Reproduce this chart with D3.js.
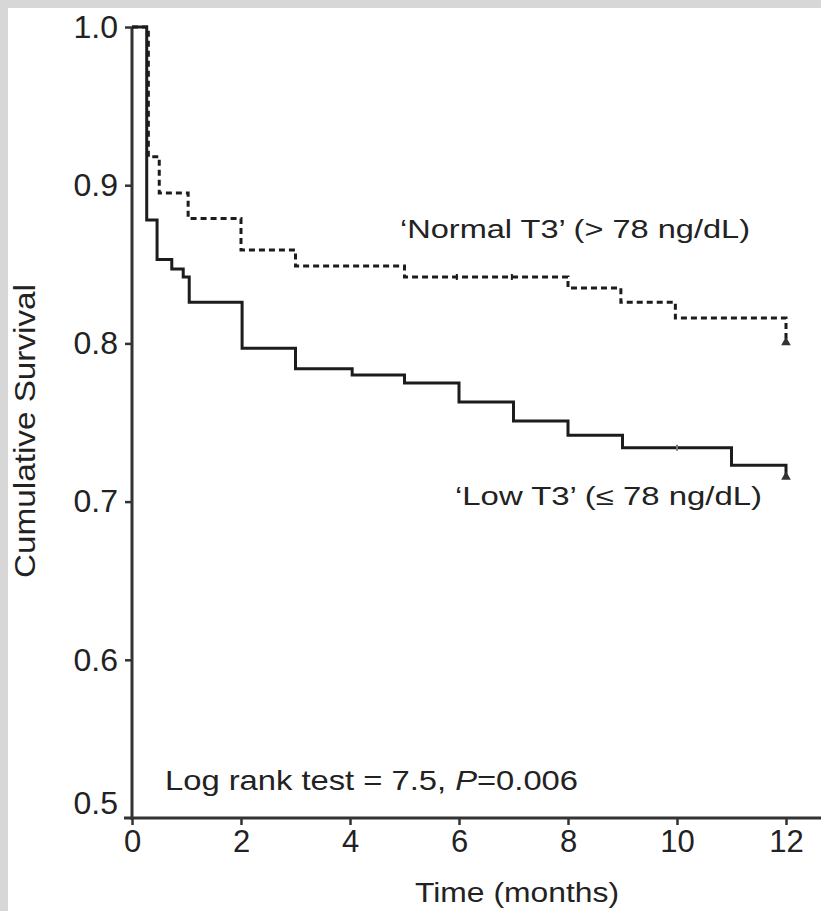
<!DOCTYPE html>
<html>
<head>
<meta charset="utf-8">
<script src="https://cdn.jsdelivr.net/npm/d3@7"></script>
<style>
  html, body { margin: 0; padding: 0; background: #d7d7d7; }
  svg { display: block; }
  text { font-family: "Liberation Sans", Arial, Helvetica, sans-serif; fill: #222; }
</style>
</head>
<body>
<script>
// ---- data ----
const normalTimes = [0, 0.3, 0.5, 1.03, 2.0, 3.0, 5.0, 8.0, 8.97, 9.97, 12.0];
const normalSurv  = [1.0, 0.918, 0.895, 0.879, 0.859, 0.849, 0.842, 0.835, 0.826, 0.816, 0.800];
const lowTimes = [0, 0.27, 0.46, 0.73, 0.94, 1.05, 2.02, 3.0, 4.04, 5.0, 6.0, 7.0, 8.0, 9.0, 11.0, 12.0];
const lowSurv  = [1.0, 0.878, 0.853, 0.847, 0.842, 0.826, 0.797, 0.784, 0.780, 0.775, 0.763, 0.751, 0.742, 0.734, 0.723, 0.715];
const normalCensorTimes = [5.96, 6.97];
const lowCensorTimes = [10.0];
const xTicks = [0, 2, 4, 6, 8, 10, 12];
const yTicks = [0.5, 0.6, 0.7, 0.8, 0.9, 1.0];
const labels = {
  normal: "\u2018Normal T3\u2019 (> 78 ng/dL)",
  low: "\u2018Low T3\u2019 (\u2264 78 ng/dL)",
  xTitle: "Time (months)",
  yTitle: "Cumulative Survival"
};

// ---- layout ----
const W = 821, H = 911;
const svg = d3.select("body").append("svg").attr("width", W).attr("height", H);
svg.append("rect").attr("x", 8).attr("y", 8).attr("width", W - 8).attr("height", H - 8).attr("fill", "#ffffff");

const x = d3.scaleLinear().domain([0, 12]).range([132, 786]);
const y = d3.scaleLinear().domain([0.5, 1.0]).range([818, 27]);

const ink = "#1c1c1c";

// axes
const xAxis = svg.append("g").attr("transform", `translate(0,${y(0.5)})`)
  .call(d3.axisBottom(x).tickValues(xTicks).tickSize(7).tickPadding(5).tickFormat(d3.format("d")));
xAxis.select(".domain").remove();
xAxis.selectAll(".tick line").attr("stroke", "#333").attr("stroke-width", 2.5);
xAxis.selectAll(".tick text").attr("font-size", 31).attr("fill", "#222").attr("dy", "0.72em");

const yAxis = svg.append("g").attr("transform", `translate(${x(0)},0)`)
  .call(d3.axisLeft(y).tickValues(yTicks).tickSize(7).tickPadding(7).tickFormat(d3.format(".1f")));
yAxis.select(".domain").remove();
yAxis.selectAll(".tick line").attr("stroke", "#333").attr("stroke-width", 2.5);
yAxis.selectAll(".tick text").attr("font-size", 32).attr("fill", "#222");
yAxis.selectAll(".tick").filter(d => d === 0.5).select("text").attr("dy", "-0.15em");
yAxis.selectAll(".tick").filter(d => d === 0.5).select("line").remove();

// axis lines
svg.append("line").attr("x1", x(0) - 8).attr("x2", W).attr("y1", y(0.5)).attr("y2", y(0.5))
  .attr("stroke", "#333").attr("stroke-width", 3);
svg.append("line").attr("x1", x(0)).attr("x2", x(0)).attr("y1", y(1.0)).attr("y2", y(0.5) + 2)
  .attr("stroke", "#333").attr("stroke-width", 3);

// curves
const line = d3.line().x(d => x(d[0])).y(d => y(d[1])).curve(d3.curveStepAfter);
const normalPts = normalTimes.map((t, i) => [t, normalSurv[i]]);
const lowPts = lowTimes.map((t, i) => [t, lowSurv[i]]);

svg.append("path").attr("d", line(lowPts)).attr("fill", "none")
  .attr("stroke", ink).attr("stroke-width", 3);
svg.append("path").attr("d", line(normalPts)).attr("fill", "none")
  .attr("stroke", ink).attr("stroke-width", 3).attr("stroke-dasharray", "6,4");

// step value lookup
function survAt(times, surv, t) {
  let v = surv[0];
  for (let i = 0; i < times.length; i++) if (times[i] <= t) v = surv[i];
  return v;
}
// censor ticks
normalCensorTimes.forEach(t => {
  const v = survAt(normalTimes, normalSurv, t);
  svg.append("line").attr("x1", x(t)).attr("x2", x(t)).attr("y1", y(v) - 3).attr("y2", y(v) + 3)
    .attr("stroke", ink).attr("stroke-width", 2);
});
lowCensorTimes.forEach(t => {
  const v = survAt(lowTimes, lowSurv, t);
  svg.append("line").attr("x1", x(t)).attr("x2", x(t)).attr("y1", y(v) - 3).attr("y2", y(v) + 3)
    .attr("stroke", "#777").attr("stroke-width", 2);
});
// end markers
const tri = d3.symbol().type(d3.symbolTriangle).size(40);
[[normalTimes, normalSurv], [lowTimes, lowSurv]].forEach(([ts, ss]) => {
  const t = ts[ts.length - 1], v = ss[ss.length - 1];
  svg.append("path").attr("d", tri()).attr("transform", `translate(${x(t)},${y(v) - 1})`).attr("fill", "#333");
});

// labels
svg.append("text").attr("x", 400).attr("y", 238).attr("font-size", 25)
  .attr("textLength", 350).attr("lengthAdjust", "spacingAndGlyphs").text(labels.normal);
svg.append("text").attr("x", 455).attr("y", 505).attr("font-size", 25)
  .attr("textLength", 307).attr("lengthAdjust", "spacingAndGlyphs").text(labels.low);

const lr = svg.append("text").attr("x", 165).attr("y", 790).attr("font-size", 28)
  .attr("textLength", 413).attr("lengthAdjust", "spacingAndGlyphs");
lr.append("tspan").text("Log rank test = 7.5, ");
lr.append("tspan").attr("font-style", "italic").text("P");
lr.append("tspan").text("=0.006");

svg.append("text").attr("x", 517).attr("y", 902).attr("font-size", 27).attr("text-anchor", "middle")
  .attr("textLength", 204).attr("lengthAdjust", "spacingAndGlyphs").text(labels.xTitle);
svg.append("text").attr("transform", "translate(35,431) rotate(-90)").attr("font-size", 29)
  .attr("text-anchor", "middle").attr("textLength", 294).attr("lengthAdjust", "spacingAndGlyphs")
  .text(labels.yTitle);
</script>
</body>
</html>
